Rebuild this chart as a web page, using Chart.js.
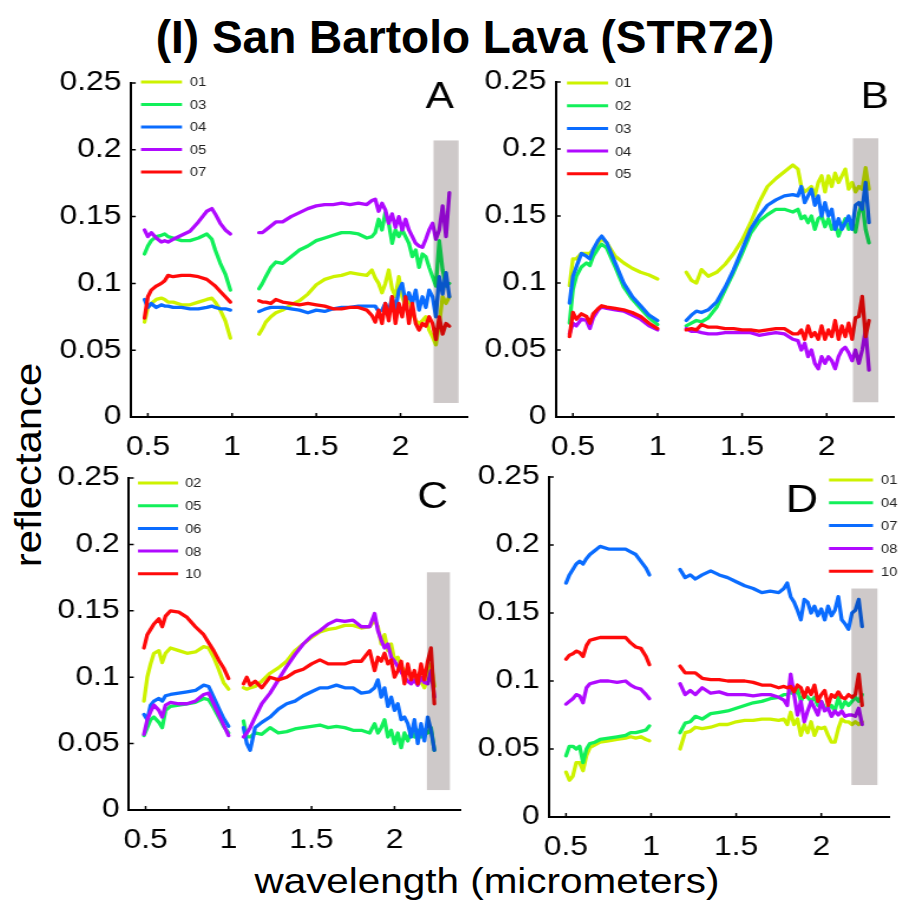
<!DOCTYPE html>
<html>
<head>
<meta charset="utf-8">
<script src="https://cdn.jsdelivr.net/npm/chart.js@4.4.1/dist/chart.umd.min.js"></script>
<style>
  body { margin: 0; background: #fff; width: 898px; height: 904px; position: relative; overflow: hidden;
         font-family: "Liberation Sans", Arial, sans-serif; }
  canvas { position: absolute; transform-origin: 0 0; }
  .txt { position: absolute; white-space: nowrap; color: #000; line-height: 1; }
  #title { left: 465px; top: 14px; font-size: 46px; font-weight: bold; transform: translateX(-50%); }
  #ylab { left: 28px; top: 465px; font-size: 37px; transform: translate(-50%, -50%) rotate(-90deg) scaleX(1.13); }
  #xlab { left: 487px; top: 863px; font-size: 35px; transform: translateX(-50%) scaleX(1.155); }
</style>
</head>
<body>
<div class="txt" id="title">(I) San Bartolo Lava (STR72)</div>
<div class="txt" id="ylab">reflectance</div>
<div class="txt" id="xlab">wavelength (micrometers)</div>
<script>
// tick labels
const xTicks = [0.5, 1, 1.5, 2];
const yTicks = [0, 0.05, 0.1, 0.15, 0.2, 0.25];

// panel A
const wlA = [0.48,0.50,0.52,0.55,0.58,0.60,0.62,0.65,0.70,0.75,0.80,0.85,0.88,0.90,0.93,0.96,0.99, 1.08,
  1.16,1.18,1.20,1.23,1.26,1.30,1.35,1.40,1.45,1.50,1.55,1.60,1.65,1.70,1.75,1.80,
  1.83,1.85,1.87,1.89,1.91,1.93,1.95,1.97,1.99,2.01,2.03,2.05,2.07,2.09,2.11,2.13,2.15,2.17,2.19,2.21,2.23,2.25,2.27,2.29];
const a01 = [0.071,0.082,0.085,0.088,0.089,0.088,0.086,0.086,0.084,0.084,0.086,0.088,0.089,0.086,0.080,0.072,0.059, null,
  0.062,0.066,0.071,0.075,0.078,0.080, 0.084,0.087,0.092,0.099,0.103,0.105,0.106,0.108,0.107,0.106,
  0.110,0.104,0.100,0.093,0.100,0.110,0.096,0.090,0.105,
  0.090,0.083,0.090,0.078,0.072,0.070,0.072,0.075,0.065,0.060,0.054,0.070,0.090,0.085,0.090];
const a03 = [0.122,0.128,0.132,0.135,0.136,0.137,0.135,0.134,0.132,0.132,0.134,0.137,0.133,0.125,0.115,0.107,0.095, null,
  0.096,0.100,0.105,0.112,0.116,0.115, 0.120,0.125,0.128,0.132,0.134,0.136,0.138,0.138,0.137,0.134,
  0.135,0.138,0.148,0.140,0.153,0.145,0.130,0.140,0.135,
  0.140,0.135,0.130,0.120,0.125,0.112,0.122,0.120,0.112,0.105,0.098,0.132,0.110,0.098,0.100];
const a04 = [0.088,0.082,0.085,0.082,0.084,0.083,0.083,0.082,0.082,0.081,0.081,0.082,0.083,0.082,0.081,0.081,0.080, null,
  0.079,0.080,0.081,0.082,0.082,0.082, 0.081,0.080,0.078,0.080,0.079,0.081,0.082,0.082,0.083,0.083,
  0.083,0.083,0.079,0.080,0.085,0.078,0.090,0.080,0.095,
  0.100,0.085,0.093,0.085,0.095,0.080,0.090,0.082,0.095,0.090,0.075,0.105,0.092,0.108,0.090];
const a05 = [0.140,0.135,0.138,0.134,0.131,0.132,0.131,0.133,0.136,0.139,0.146,0.154,0.156,0.152,0.145,0.140,0.137, null,
  0.138,0.138,0.140,0.143,0.146,0.146, 0.150,0.153,0.156,0.158,0.159,0.159,0.160,0.159,0.160,0.159,
  0.162,0.163,0.154,0.160,0.155,0.145,0.152,0.142,0.150,
  0.140,0.148,0.140,0.135,0.130,0.128,0.127,0.133,0.140,0.145,0.133,0.140,0.158,0.135,0.168];
const a07 = [0.074,0.090,0.095,0.098,0.100,0.102,0.106,0.105,0.106,0.106,0.105,0.103,0.100,0.098,0.094,0.090,0.086, null,
  0.087,0.086,0.086,0.085,0.088,0.086, 0.085,0.084,0.085,0.084,0.083,0.081,0.081,0.082,0.082,0.080,
  0.076,0.071,0.080,0.070,0.085,0.072,0.090,0.070,0.085,
  0.075,0.090,0.070,0.085,0.070,0.065,0.070,0.068,0.075,0.070,0.058,0.075,0.062,0.070,0.068];
const bandA = [2.196, 2.345, 0.0105, 0.207];

// panel B
const wlB = [0.48,0.50,0.52,0.55,0.58,0.60,0.62,0.65,0.67,0.70,0.75,0.80,0.85,0.90,0.95,1.00, 1.09,
  1.17,1.20,1.23,1.26,1.30, 1.35,1.40,1.45,1.50,1.55,1.60,1.65,1.70,1.75,1.80,
  1.83,1.85,1.87,1.89,1.91,1.93,1.95,1.97,1.99,
  2.01,2.03,2.05,2.07,2.09,2.11,2.13,2.15,2.17,2.19,2.21,2.23,2.25];
const b01 = [0.098,0.118,0.118,0.122,0.122,0.122,0.125,0.130,0.133,0.130,0.120,0.115,0.111,0.108,0.106,0.103, null,
  0.108,0.102,0.100,0.110,0.105, 0.108,0.114,0.122,0.132,0.145,0.160,0.172,0.178,0.183,0.188,
  0.185,0.172,0.168,0.170,0.172,0.165,0.175,0.180,0.168,
  0.180,0.172,0.182,0.175,0.180,0.185,0.170,0.175,0.168,0.172,0.170,0.186,0.170];
const b02 = [0.070,0.095,0.105,0.112,0.115,0.113,0.120,0.126,0.129,0.126,0.112,0.097,0.088,0.081,0.074,0.069, null,
  0.068,0.070,0.072,0.071,0.074, 0.082,0.095,0.108,0.122,0.137,0.146,0.151,0.155,0.155,0.153,
  0.155,0.148,0.150,0.145,0.150,0.140,0.148,0.150,0.142,
  0.148,0.140,0.145,0.135,0.142,0.148,0.140,0.145,0.138,0.152,0.160,0.140,0.130];
const b03 = [0.085,0.105,0.112,0.122,0.120,0.118,0.125,0.132,0.135,0.130,0.115,0.100,0.090,0.083,0.076,0.072, null,
  0.072,0.076,0.079,0.078,0.080, 0.086,0.097,0.110,0.125,0.140,0.150,0.158,0.162,0.165,0.166,
  0.165,0.172,0.160,0.165,0.170,0.158,0.165,0.150,0.160,
  0.150,0.155,0.140,0.148,0.140,0.145,0.150,0.140,0.158,0.160,0.155,0.175,0.145];
const b04 = [0.062,0.070,0.068,0.073,0.072,0.066,0.074,0.080,0.082,0.081,0.080,0.079,0.076,0.073,0.068,0.065, null,
  0.066,0.064,0.064,0.063,0.062, 0.062,0.063,0.063,0.063,0.063,0.061,0.062,0.063,0.062,0.058,
  0.057,0.050,0.055,0.045,0.050,0.040,0.036,0.045,0.040,
  0.045,0.042,0.036,0.045,0.050,0.052,0.048,0.042,0.050,0.040,0.050,0.065,0.035];
const b05 = [0.060,0.078,0.073,0.077,0.075,0.070,0.077,0.081,0.083,0.082,0.081,0.080,0.078,0.075,0.070,0.066, null,
  0.065,0.066,0.065,0.069,0.067, 0.067,0.066,0.066,0.065,0.065,0.064,0.065,0.066,0.066,0.062,
  0.062,0.065,0.058,0.068,0.060,0.063,0.058,0.068,0.058,
  0.065,0.060,0.072,0.058,0.068,0.060,0.070,0.058,0.074,0.075,0.090,0.060,0.072];
const bandB = [2.155, 2.305, 0.011, 0.208];

// panel C
const wlC = [0.49,0.51,0.53,0.55,0.58,0.60,0.62,0.65,0.70,0.75,0.80,0.85,0.88,0.91,0.94,0.97,1.00, 1.05,
  1.09,1.11,1.13,1.16,1.20, 1.25,1.30,1.35,1.40,1.45,1.50,1.55,1.60,1.65,1.70,1.75,1.80,1.85,
  1.88,1.90,1.92,1.94,1.96,1.98,2.00,2.02,2.04,2.06,2.08,2.10,2.12,2.14,2.16,2.18,2.20,2.22,2.24];
const c02 = [0.082,0.100,0.110,0.118,0.120,0.111,0.118,0.122,0.120,0.118,0.119,0.123,0.122,0.115,0.106,0.096,0.091, null,
  0.092,0.091,0.092,0.093,0.097, 0.103,0.107,0.112,0.120,0.125,0.130,0.134,0.136,0.137,0.139,0.139,0.137,0.138,
  0.143,0.138,0.125,0.132,0.120,0.125,0.113,0.115,0.108,0.105,0.104,0.102,0.100,0.095,0.097,0.092,0.100,0.110,0.093];
const c05 = [0.056,0.062,0.068,0.070,0.066,0.062,0.075,0.078,0.079,0.080,0.081,0.084,0.083,0.077,0.070,0.063,0.058, null,
  0.067,0.055,0.055,0.058,0.057, 0.062,0.058,0.059,0.061,0.062,0.063,0.064,0.062,0.063,0.062,0.060,0.060,0.058,
  0.065,0.058,0.062,0.068,0.055,0.060,0.050,0.058,0.047,0.058,0.052,0.060,0.055,0.060,0.055,0.060,0.058,0.062,0.045];
const c06 = [0.072,0.068,0.079,0.082,0.084,0.082,0.086,0.087,0.088,0.089,0.090,0.094,0.093,0.085,0.077,0.069,0.063, null,
  0.062,0.050,0.045,0.062,0.066, 0.070,0.076,0.080,0.082,0.086,0.089,0.092,0.092,0.094,0.092,0.092,0.088,0.089,
  0.092,0.098,0.085,0.092,0.078,0.085,0.075,0.080,0.068,0.070,0.065,0.055,0.068,0.050,0.065,0.052,0.070,0.060,0.045];
const c08 = [0.057,0.068,0.074,0.079,0.075,0.070,0.079,0.081,0.080,0.080,0.082,0.087,0.088,0.080,0.072,0.064,0.056, null,
  0.055,0.058,0.062,0.070,0.080, 0.088,0.098,0.108,0.117,0.125,0.131,0.135,0.140,0.143,0.142,0.143,0.138,0.138,
  0.148,0.135,0.128,0.122,0.125,0.115,0.112,0.108,0.104,0.100,0.097,0.095,0.098,0.094,0.100,0.096,0.095,0.105,0.085];
const c10 = [0.122,0.132,0.136,0.140,0.144,0.138,0.146,0.150,0.149,0.145,0.138,0.132,0.126,0.120,0.113,0.107,0.099, null,
  0.095,0.100,0.094,0.097,0.092, 0.100,0.098,0.100,0.104,0.106,0.110,0.113,0.110,0.110,0.110,0.112,0.112,0.120,
  0.105,0.115,0.112,0.118,0.110,0.113,0.100,0.105,0.112,0.095,0.110,0.098,0.105,0.095,0.110,0.098,0.112,0.122,0.080];
const bandC = [2.195, 2.334, 0.015, 0.179];

// panel D
const wlD = [0.50,0.52,0.54,0.56,0.58,0.60,0.62,0.64,0.67,0.70,0.75,0.80,0.85,0.88,0.91,0.94,0.97,0.99, 1.08,
  1.17,1.20,1.23,1.26,1.30, 1.35,1.40,1.45,1.50,1.55,1.60,1.65,1.70,1.75, 1.78,
  1.80,1.82,1.84,1.86,1.88,1.90,1.92,1.94,1.96,1.98,2.00,2.02,2.04,2.06,2.08,2.10,2.12,2.14,2.16,2.18,2.20,2.22,2.24];
const d01 = [0.033,0.027,0.030,0.040,0.040,0.034,0.045,0.051,0.053,0.055,0.056,0.057,0.058,0.059,0.058,0.059,0.057,0.056, null,
  0.050,0.062,0.063,0.066,0.065, 0.066,0.068,0.068,0.070,0.071,0.071,0.072,0.072,0.071, 0.072,
  0.068,0.077,0.068,0.072,0.060,0.068,0.062,0.070,0.060,0.066,0.065,0.066,0.060,0.055,0.055,0.065,0.072,0.070,0.070,0.068,0.070,0.068,0.070];
const d04 = [0.045,0.052,0.052,0.050,0.052,0.040,0.050,0.054,0.055,0.057,0.058,0.059,0.060,0.062,0.062,0.063,0.064,0.067, null,
  0.062,0.069,0.070,0.074,0.072, 0.076,0.077,0.078,0.080,0.082,0.084,0.085,0.087,0.088, 0.090,
  0.090,0.092,0.090,0.094,0.085,0.090,0.088,0.085,0.088,0.082,0.085,0.080,0.080,0.082,0.078,0.088,0.080,0.085,0.082,0.085,0.088,0.085,0.090];
const d07 = [0.172,0.178,0.182,0.186,0.188,0.186,0.190,0.193,0.196,0.199,0.197,0.197,0.197,0.195,0.193,0.188,0.183,0.178, null,
  0.182,0.176,0.178,0.175,0.178, 0.181,0.178,0.176,0.173,0.170,0.168,0.165,0.166,0.165, 0.168,
  0.172,0.162,0.158,0.152,0.145,0.160,0.158,0.150,0.155,0.148,0.153,0.145,0.155,0.148,0.152,0.162,0.145,0.142,0.138,0.150,0.152,0.160,0.140];
const d08 = [0.083,0.085,0.087,0.090,0.089,0.084,0.095,0.098,0.099,0.100,0.100,0.099,0.100,0.097,0.095,0.094,0.090,0.087, null,
  0.098,0.090,0.093,0.090,0.095, 0.091,0.092,0.090,0.090,0.090,0.089,0.090,0.090,0.088, 0.086,
  0.082,0.105,0.090,0.075,0.085,0.070,0.078,0.085,0.080,0.075,0.085,0.078,0.080,0.074,0.078,0.075,0.078,0.074,0.075,0.075,0.074,0.080,0.068];
const d10 = [0.116,0.119,0.120,0.122,0.121,0.118,0.126,0.130,0.131,0.132,0.132,0.132,0.132,0.128,0.125,0.124,0.118,0.112, null,
  0.111,0.106,0.106,0.106,0.102, 0.101,0.101,0.100,0.100,0.100,0.099,0.097,0.097,0.095, 0.096,
  0.095,0.096,0.092,0.097,0.095,0.088,0.095,0.090,0.097,0.085,0.090,0.093,0.082,0.090,0.088,0.092,0.088,0.087,0.090,0.088,0.090,0.105,0.082];
const bandD = [2.177, 2.33, 0.0235, 0.168];

const lineColors = ['#cdf200', '#12f05a', '#0a6cff', '#b00aff', '#ff0a0a'];
const SX = 1.18;  // the original figure is stretched horizontally
const FONT = '"Liberation Sans", Arial, sans-serif';

const panels = [
  { letter: 'A', wl: wlA, names: ['01','03','04','05','07'], series: [a01,a03,a04,a05,a07], band: bandA,
    box: {x: 40, y: 50, w: 432, h: 420}, area: {l: 131, r: 468, t: 83, b: 417},
    let: {x: 454, y: 108, size: 36}, leg: {x1: 141, x2: 182, tx: 190, y: 82, dy: 22.5} },
  { letter: 'B', wl: wlB, names: ['01','02','03','04','05'], series: [b01,b02,b03,b04,b05], band: bandB,
    box: {x: 470, y: 50, w: 428, h: 420}, area: {l: 556, r: 894, t: 82, b: 417},
    let: {x: 889, y: 108, size: 36}, leg: {x1: 567, x2: 608, tx: 615, y: 83, dy: 22.7} },
  { letter: 'C', wl: wlC, names: ['02','05','06','08','10'], series: [c02,c05,c06,c08,c10], band: bandC,
    box: {x: 40, y: 445, w: 432, h: 420}, area: {l: 129, r: 461, t: 478, b: 810},
    let: {x: 448, y: 508, size: 36}, leg: {x1: 138, x2: 178, tx: 185, y: 483, dy: 22.7} },
  { letter: 'D', wl: wlD, names: ['01','04','07','08','10'], series: [d01,d04,d07,d08,d10], band: bandD,
    box: {x: 470, y: 445, w: 428, h: 420}, area: {l: 549, r: 889, t: 477, b: 817},
    let: {x: 818, y: 512, size: 38}, leg: {x1: 829, x2: 873, tx: 881, y: 480, dy: 22.8} }
];

panels.forEach(p => p.series.forEach((s, i) => {
  if (s.length !== p.wl.length) throw new Error(p.letter + ' ' + p.names[i] + ': ' + s.length + ' vs ' + p.wl.length);
}));

function makeChart(p) {
  const cv = document.createElement('canvas');
  const ix = v => (v - p.box.x) / SX;   // page x -> canvas x
  const iy = v => v - p.box.y;          // page y -> canvas y
  cv.width = Math.round(p.box.w / SX);
  cv.height = p.box.h;
  cv.style.left = p.box.x + 'px';
  cv.style.top = p.box.y + 'px';
  cv.style.transform = 'scaleX(' + SX + ')';
  document.body.appendChild(cv);

  const extras = {
    id: 'extras' + p.letter,
    afterDatasetsDraw(chart) {
      const ctx = chart.ctx, xs = chart.scales.x, ys = chart.scales.y, ca = chart.chartArea;
      // grey band
      const bx1 = xs.getPixelForValue(p.band[0]), bx2 = xs.getPixelForValue(p.band[1]);
      const by1 = ys.getPixelForValue(p.band[2]), by2 = ys.getPixelForValue(p.band[3]);
      ctx.save();
      ctx.globalCompositeOperation = 'multiply';
      ctx.fillStyle = 'rgb(206,201,201)';
      ctx.fillRect(bx1, by2, bx2 - bx1, by1 - by2);
      ctx.restore();
      // inward ticks
      ctx.save();
      ctx.strokeStyle = '#000';
      ctx.lineWidth = 1.5;
      ctx.beginPath();
      xTicks.forEach(v => { const px = xs.getPixelForValue(v); ctx.moveTo(px, ca.bottom); ctx.lineTo(px, ca.bottom - 4); });
      yTicks.forEach(v => { const py = ys.getPixelForValue(v); ctx.moveTo(ca.left, py); ctx.lineTo(ca.left + 4, py); });
      ctx.stroke();
      // legend
      ctx.lineWidth = 3;
      ctx.font = '12.5px ' + FONT;
      ctx.textBaseline = 'middle';
      ctx.textAlign = 'left';
      p.names.forEach((n, i) => {
        const y = iy(p.leg.y + i * p.leg.dy);
        ctx.strokeStyle = lineColors[i];
        ctx.beginPath();
        ctx.moveTo(ix(p.leg.x1), y);
        ctx.lineTo(ix(p.leg.x2), y);
        ctx.stroke();
        ctx.fillStyle = '#222';
        ctx.fillText(n, ix(p.leg.tx), y + 1);
      });
      // panel letter
      ctx.fillStyle = '#000';
      ctx.font = p.let.size + 'px ' + FONT;
      ctx.textAlign = 'right';
      ctx.textBaseline = 'alphabetic';
      ctx.fillText(p.letter, ix(p.let.x), iy(p.let.y));
      ctx.restore();
    }
  };

  const tickFont = {family: FONT, size: 27};
  return new Chart(cv, {
    type: 'line',
    data: {
      datasets: p.series.map((s, i) => ({
        label: p.names[i],
        data: p.wl.map((x, j) => ({x: x, y: s[j]})),
        borderColor: lineColors[i],
        borderWidth: 3.3,
        borderJoinStyle: 'round',
        borderCapStyle: 'round',
        pointRadius: 0,
        tension: 0,
        spanGaps: false,
        order: p.series.length - 1 - i
      }))
    },
    options: {
      responsive: false,
      animation: false,
      devicePixelRatio: 1,
      layout: {padding: {top: p.area.t - p.box.y, right: ix(p.box.x + p.box.w) - ix(p.area.r), left: 0, bottom: 0}},
      plugins: {legend: {display: false}, tooltip: {enabled: false}},
      scales: {
        x: {
          type: 'linear', min: 0.4, max: 2.4,
          afterBuildTicks: s => { s.ticks = xTicks.map(v => ({value: v})); },
          afterFit: s => { s.height = p.box.y + p.box.h - p.area.b; },
          grid: {display: false, drawTicks: false},
          border: {display: true, color: '#000', width: 2},
          ticks: {font: tickFont, color: '#000', padding: 14, maxRotation: 0, callback: v => String(v)}
        },
        y: {
          min: 0, max: 0.25,
          afterBuildTicks: s => { s.ticks = yTicks.map(v => ({value: v})); },
          afterFit: s => { s.width = ix(p.area.l); },
          grid: {display: false, drawTicks: false},
          border: {display: true, color: '#000', width: 2},
          ticks: {font: tickFont, color: '#000', padding: 8, callback: v => String(Math.round(v * 100) / 100)}
        }
      }
    },
    plugins: [extras]
  });
}

panels.forEach(makeChart);
</script>
</body>
</html>
